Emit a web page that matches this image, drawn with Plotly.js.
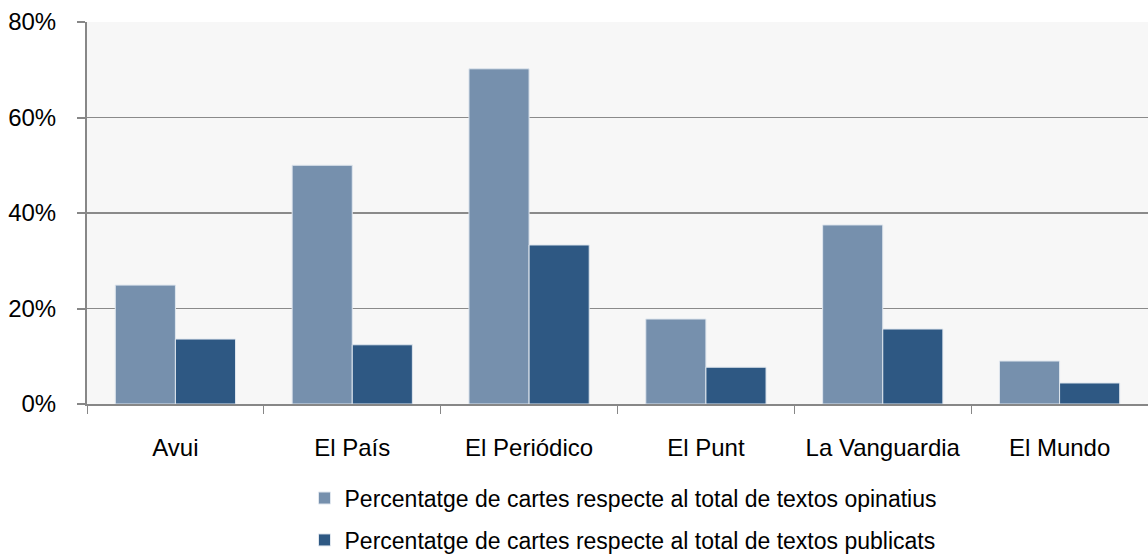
<!DOCTYPE html>
<html><head><meta charset="utf-8">
<script src="https://cdn.plot.ly/plotly-3.0.1.min.js"></script>
<style>html,body{margin:0;padding:0;background:#fff;}#chart{width:1148px;height:557px;}</style>
</head><body><div id="chart"></div>
<script>
const categories = ["Avui", "El País", "El Periódico", "El Punt", "La Vanguardia", "El Mundo"];
const opinatius = [0.249, 0.50, 0.702, 0.178, 0.375, 0.090];
const publicats = [0.136, 0.124, 0.333, 0.077, 0.157, 0.044];
const seriesNames = ["Percentatge de cartes respecte al total de textos opinatius",
                     "Percentatge de cartes respecte al total de textos publicats"];
const yTicks = [0, 0.2, 0.4, 0.6, 0.8];
const yTickLabels = ["0%", "20%", "40%", "60%", "80%"];

const font = {family: "Liberation Sans, Arial, sans-serif", size: 24, color: "#000"};
const data = [
  {type: "bar", x: categories, y: opinatius, name: seriesNames[0], legendgroup: "a",
   marker: {color: "#7690ad", line: {color: "#dfe6ee", width: 1}}, hoverinfo: "skip"},
  {type: "bar", x: categories, y: publicats, name: seriesNames[1], legendgroup: "b",
   marker: {color: "#2e5883", line: {color: "#dfe6ee", width: 1}}, hoverinfo: "skip"}
];
const layout = {
  width: 1148, height: 557,
  margin: {l: 87, r: 0, t: 22, b: 153, autoexpand: false},
  paper_bgcolor: "#fff", plot_bgcolor: "#f7f7f7",
  font: font,
  barmode: "group", bargap: 0.32, bargroupgap: 0,
  showlegend: true,
  legend: {x: 0.205, xanchor: "left", y: -0.19, yanchor: "top",
           traceorder: "grouped", tracegroupgap: 9,
           font: {family: "Liberation Sans, Arial, sans-serif", size: 23, color: "#000"},
           bgcolor: "rgba(0,0,0,0)"},
  xaxis: {type: "category", showline: true, linecolor: "#878787", linewidth: 2,
          ticks: "outside", tickson: "boundaries", ticklen: 8, tickcolor: "#878787", tickwidth: 1,
          ticklabelstandoff: 21, showgrid: false, fixedrange: true},
  yaxis: {range: [0, 0.8], tickvals: yTicks, ticktext: yTickLabels,
          showline: true, linecolor: "#878787", linewidth: 2,
          ticks: "outside", ticklen: 8, tickcolor: "#878787", tickwidth: 2,
          ticklabelstandoff: 16,
          showgrid: true, gridcolor: "#8a8a8a", gridwidth: 1.5, zeroline: false, fixedrange: true}
};
Plotly.newPlot("chart", data, layout, {displayModeBar: false, staticPlot: true});
</script></body></html>
